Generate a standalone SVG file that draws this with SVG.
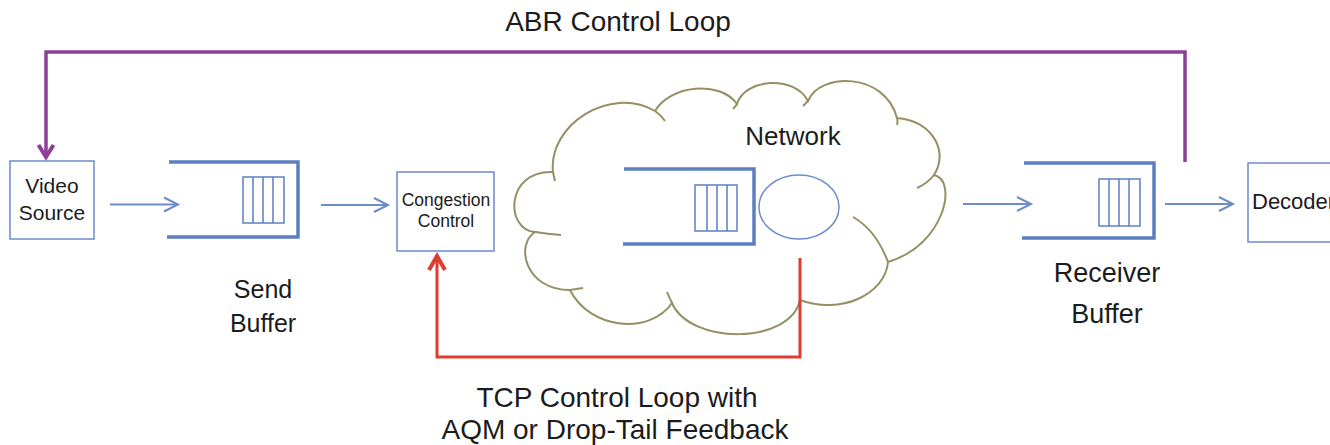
<svg xmlns="http://www.w3.org/2000/svg" width="1330" height="445" viewBox="0 0 1330 445">
<defs>
<style>
text{font-family:"Liberation Sans",Arial,sans-serif;fill:#1c1c1c}
.box{fill:#fff;stroke:#6c8ccb;stroke-width:1.5}
.buf{fill:none;stroke:#5b7fc2;stroke-width:3.5}
.cell{fill:none;stroke:#5b7fc2;stroke-width:1.5}
.flow{fill:none;stroke:#6c8ccb;stroke-width:2;marker-end:url(#mBlue)}
.abr{fill:none;stroke:#8e3f9c;stroke-width:3.5;marker-end:url(#mPurple)}
.tcp{fill:none;stroke:#dc3d30;stroke-width:3;marker-end:url(#mRed)}
.cloud{fill:#fff;stroke:#958f63;stroke-width:2}
.stub{fill:none;stroke:#958f63;stroke-width:2}
</style>
<marker id="mBlue" markerUnits="userSpaceOnUse" viewBox="-18 -10 20 20" refX="0" refY="0" markerWidth="20" markerHeight="20" orient="auto" overflow="visible">
<path d="M-14,-7 L0,0 L-14,7" fill="none" stroke="#6c8ccb" stroke-width="2"/>
</marker>
<marker id="mPurple" markerUnits="userSpaceOnUse" viewBox="-18 -10 20 20" refX="0" refY="0" markerWidth="20" markerHeight="20" orient="auto" overflow="visible">
<path d="M-13,-7.5 L-1,0 L-13,7.5" fill="none" stroke="#8e3f9c" stroke-width="4"/>
</marker>
<marker id="mRed" markerUnits="userSpaceOnUse" viewBox="-18 -10 20 20" refX="0" refY="0" markerWidth="20" markerHeight="20" orient="auto" overflow="visible">
<path d="M-15,-8 L-1,0 L-15,8" fill="none" stroke="#dc3d30" stroke-width="4"/>
</marker>
</defs>
<rect width="1330" height="445" fill="#fff"/>

<g id="network">
<path class="cloud" d="M535,232 C505,230 505,170 553,172 C548,125 610,85 655,111 C670,85 720,80 737,104 C745,78 795,75 808,101 C820,72 885,72 897,118 C930,120 950,150 934,175 C958,180 945,245 888,262 C885,295 840,315 800,300 C790,345 690,345 672,303 C650,335 590,330 570,290 C525,290 515,245 535,232 Z"/>
<path class="stub" d="M535,232 Q548,234 561,235 M570,290 Q576,289 583,288 M672,303 Q669,297 667,292 M888,262 Q876,230 853,217 M934,175 Q928,183 917,188 M897,118 Q898,122 897,125 M808,101 Q805,104 803,106 M737,104 Q735,107 733,109 M655,111 Q661,115 665,121 M553,172 Q554,177 555,181"/>
<text x="793" y="145" font-size="26" text-anchor="middle">Network</text>
<path class="buf" d="M624,169 H754 V244 H623"/>
<rect class="cell" x="695" y="185" width="42" height="46"/>
<path class="cell" d="M707,185 V231 M717,185 V231 M727,185 V231"/>
<ellipse cx="799" cy="207" rx="40" ry="32" fill="none" stroke="#6c8ccb" stroke-width="1.5"/>
</g>

<g id="video-source">
<rect class="box" x="10" y="161" width="84" height="78"/>
<text x="52" y="193" font-size="21" text-anchor="middle">Video</text>
<text x="52" y="220" font-size="21" text-anchor="middle">Source</text>
</g>

<g id="send-buffer">
<path class="buf" d="M169,162 H298 V237 H167"/>
<rect class="cell" x="243" y="177" width="41" height="46"/>
<path class="cell" d="M253,177 V223 M263,177 V223 M273,177 V223"/>
<text x="263" y="298" font-size="25" text-anchor="middle">Send</text>
<text x="263" y="332" font-size="25" text-anchor="middle">Buffer</text>
</g>

<g id="congestion-control">
<rect class="box" x="397" y="172" width="97" height="79"/>
<text x="446" y="206" font-size="17.5" text-anchor="middle">Congestion</text>
<text x="446" y="227" font-size="17.5" text-anchor="middle">Control</text>
</g>

<g id="receiver-buffer">
<path class="buf" d="M1024,163 H1154 V238 H1022"/>
<rect class="cell" x="1099" y="179" width="41" height="47"/>
<path class="cell" d="M1109,179 V226 M1119,179 V226 M1129,179 V226"/>
<text x="1107" y="282" font-size="27" text-anchor="middle">Receiver</text>
<text x="1107" y="323" font-size="27" text-anchor="middle">Buffer</text>
</g>

<g id="decoder">
<rect class="box" x="1248" y="163" width="100" height="79"/>
<text x="1252" y="209" font-size="22">Decoder</text>
</g>

<g id="connectors">
<path class="flow" d="M110,204.5 H178"/>
<path class="flow" d="M321,205 H388"/>
<path class="flow" d="M963,204 H1031"/>
<path class="flow" d="M1165,204 H1233"/>
<path class="abr" d="M1185,162 V52 H46 V158"/>
<path class="tcp" d="M800,258 V357 H437 V255"/>
</g>

<g id="labels">
<text x="618" y="31" font-size="28" text-anchor="middle">ABR Control Loop</text>
<text x="617" y="407" font-size="28" text-anchor="middle">TCP Control Loop with</text>
<text x="615" y="439" font-size="28" text-anchor="middle">AQM or Drop-Tail Feedback</text>
</g>
</svg>
